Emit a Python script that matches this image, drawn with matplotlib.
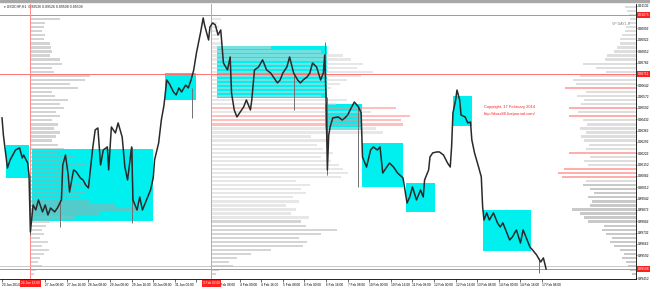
import matplotlib.pyplot as plt
import numpy as np
from matplotlib.patches import Rectangle

plt.rcParams['font.family'] = ['Liberation Sans', 'DejaVu Sans']

# H1 bars counted from 23 Jan 2014 16:00, closes
bars = [0, 1, 4, 6, 8, 10, 13, 15, 16, 19, 20, 21, 23, 25, 27, 30, 32, 34, 36, 39,
        41, 44, 45, 47, 49, 50, 53, 55, 58, 60, 62, 64, 67, 69, 71, 73, 75, 78, 79, 81,
        84, 86, 89, 91, 93, 96, 97, 100, 102, 104, 107, 110, 112, 113, 116, 118, 120, 122, 124, 127,
        129, 131, 133, 136, 138, 140, 142, 144, 147, 149, 150, 153, 154, 156, 158, 160, 162, 164, 167, 169,
        170, 172, 174, 176, 179, 181, 184, 185, 187, 190, 193, 196, 199, 201, 204, 206, 208, 211, 213, 216,
        219, 221, 223, 226, 228, 230, 233, 236, 238, 239, 240, 241, 242, 243, 245, 249, 252, 254, 256, 259,
        261, 264, 266, 267, 270, 273, 275, 278, 280, 282, 285, 287, 290, 293, 297, 300, 302, 304, 307, 310,
        312, 313, 316, 317, 319, 322, 324, 327, 330, 332, 333, 334, 336, 337, 339, 340, 343, 345, 347, 348,
        350, 353, 355, 356, 357, 359, 361, 364, 367, 369, 371, 374, 376, 378, 381, 384, 386, 389, 391, 393,
        396, 399, 401, 403]
closes = [0.90440, 0.90335, 0.90131, 0.90181, 0.90211, 0.90242, 0.90255, 0.90193, 0.90211, 0.90162,
          0.90088, 0.89736, 0.89903, 0.89872, 0.89934, 0.89860, 0.89903, 0.89841, 0.89884, 0.89860,
          0.89884, 0.89934, 0.90150, 0.90211, 0.90088, 0.89983, 0.90119, 0.90107, 0.90070, 0.90057,
          0.90026, 0.90008, 0.90242, 0.90366, 0.90378, 0.90150, 0.90242, 0.90261, 0.90119, 0.90384,
          0.90347, 0.90409, 0.90322, 0.90137, 0.90057, 0.90261, 0.89934, 0.89872, 0.89952, 0.89872,
          0.89934, 0.89995, 0.90070, 0.90181, 0.90285, 0.90427, 0.90520, 0.90674, 0.90650, 0.90600,
          0.90582, 0.90625, 0.90600, 0.90643, 0.90625, 0.90674, 0.90736, 0.90841, 0.90964, 0.91057,
          0.91014, 0.90921, 0.91001, 0.91026, 0.91014, 0.90952, 0.90983, 0.90779, 0.90736, 0.90816,
          0.90594, 0.90489, 0.90446, 0.90471, 0.90508, 0.90551, 0.90489, 0.90551, 0.90736, 0.90754,
          0.90798, 0.90736, 0.90717, 0.90693, 0.90656, 0.90674, 0.90717, 0.90754, 0.90816, 0.90717,
          0.90674, 0.90656, 0.90674, 0.90693, 0.90717, 0.90779, 0.90754, 0.90674, 0.90717, 0.90828,
          0.90569, 0.90119, 0.90335, 0.90384, 0.90440, 0.90446, 0.90427, 0.90440, 0.90458, 0.90508,
          0.90538, 0.90508, 0.90471, 0.90199, 0.90137, 0.90242, 0.90261, 0.90242, 0.90261, 0.90100,
          0.90137, 0.90162, 0.90137, 0.90100, 0.90070, 0.89915, 0.89952, 0.90014, 0.89934, 0.89995,
          0.89952, 0.90057, 0.90119, 0.90199, 0.90224, 0.90230, 0.90230, 0.90211, 0.90162, 0.90137,
          0.90261, 0.90471, 0.90551, 0.90612, 0.90551, 0.90458, 0.90446, 0.90409, 0.90415, 0.90304,
          0.90224, 0.90137, 0.90076, 0.89891, 0.89810, 0.89854, 0.89810, 0.89854, 0.89792, 0.89767,
          0.89792, 0.89730, 0.89687, 0.89705, 0.89749, 0.89668, 0.89749, 0.89687, 0.89644, 0.89625,
          0.89594, 0.89551, 0.89576, 0.89508]

# long wicks that stick out of the close line
wick_bar = [21, 43, 96, 141, 216, 239, 241, 264, 398]
wick_low = [0.89718, 0.89767, 0.89792, 0.90440, 0.90489, 0.90569, 0.90088, 0.90014, 0.89483]
wick_high = [0.90088, 0.89934, 0.90261, 0.90625, 0.90717, 0.90908, 0.90569, 0.90508, 0.89576]

# cyan value-area boxes (bar from/to, price low/high)
box_from = [3, 22, 121, 159, 239, 267, 299, 334, 356]
box_to = [20, 112, 144, 241, 267, 297, 321, 348, 392]
box_low = [0.90070, 0.89804, 0.90551, 0.90563, 0.90366, 0.90014, 0.89860, 0.90390, 0.89619]
box_high = [0.90273, 0.90248, 0.90717, 0.90884, 0.90526, 0.90285, 0.90039, 0.90575, 0.89872]

# volume profiles, one value per 2.5 pip level starting at 0.89475
level0 = 0.89475
level_step = 0.00025
vol_left = [4, 6, 12, 8, 10, 14, 19, 12, 18, 10, 14, 12, 16, 20, 45, 70, 110, 85, 60, 50,
            55, 45, 58, 40, 48, 35, 42, 55, 38, 45, 30, 34, 28, 22, 26, 30, 24, 28, 22, 30,
            26, 34, 30, 38, 25, 22, 48, 40, 55, 60, 24, 22, 32, 30, 20, 22, 21, 20, 14, 15,
            12, 14, 15, 30]
vol_mid = [5, 8, 22, 18, 26, 40, 60, 92, 96, 88, 110, 126, 95, 90, 98, 80, 85, 75, 88, 82,
           95, 90, 99, 85, 130, 137, 132, 128, 120, 110, 122, 112, 106, 116, 100, 172, 165, 192, 190, 199,
           160, 185, 125, 136, 110, 115, 120, 129, 136, 150, 162, 146, 152, 140, 132, 110, 60, 10, 8, 9,
           7, 8, 6, 10]
vol_right = [4, 6, 8, 10, 14, 12, 16, 22, 26, 24, 30, 34, 32, 48, 52, 56, 64, 46, 44, 48,
             42, 46, 53, 50, 74, 78, 72, 48, 52, 46, 67, 50, 47, 52, 55, 50, 56, 49, 53, 67,
             58, 67, 55, 52, 59, 50, 71, 60, 63, 56, 30, 40, 53, 31, 29, 22, 19, 16, 16, 14,
             11, 10, 8, 6, 7, 9, 11]
mid_hot = [37, 38, 39, 41]
right_hot = [24, 25, 26, 30, 39, 41, 46]
left_anchor = 21    # 24 Jan 13:00
mid_anchor = 155    # 3 Feb 03:00

level_prices = [0.91075, 0.90711]
bid = 0.89508
ask = 0.89524
price_ticks = [0.89452, 0.89592, 0.89662, 0.89732, 0.89802, 0.89872, 0.89942, 0.90012,
               0.90082, 0.90152, 0.90222, 0.90292, 0.90362, 0.90432, 0.90502, 0.90572,
               0.90642, 0.90782, 0.90852, 0.90922, 0.90992, 0.91132]
# labels under the red time markers are hidden on the chart
time_labels = ["23 Jan 2014", "", "27 Jan 00:00", "27 Jan 16:00", "28 Jan 08:00",
               "29 Jan 00:00", "29 Jan 16:00", "30 Jan 08:00", "31 Jan 00:00", "",
               "3 Feb 08:00", "4 Feb 00:00", "4 Feb 16:00", "5 Feb 08:00", "6 Feb 00:00",
               "6 Feb 16:00", "7 Feb 08:00", "10 Feb 00:00", "10 Feb 16:00", "11 Feb 08:00",
               "12 Feb 00:00", "12 Feb 16:00", "13 Feb 08:00", "14 Feb 00:00", "14 Feb 16:00",
               "17 Feb 08:00"]
line_labels = ["24 Jan 13:00", "3 Feb 03:00"]

fig = plt.figure(figsize=(6.5, 2.87), dpi=100)
fig.patches.append(Rectangle((0, 1 - 2 / 287), 1, 2 / 287, transform=fig.transFigure,
                             color='#a8a8a8', zorder=0))
ax = fig.add_axes([0, 8 / 287, 636 / 650, 275 / 287])
x_lo, x_hi = -1.5, 469.6
ax.set_xlim(x_lo, x_hi)
ax.set_ylim(0.89446, 0.91143)

vol_scale = 1 / 1.35
bar_h = 0.00014

# value boxes
for b0, b1, lo, hi in zip(box_from, box_to, box_low, box_high):
    ax.add_patch(Rectangle((b0, lo), b1 - b0, hi - lo, facecolor='#00f0f0',
                           edgecolor='none', zorder=1))

# profiles
lv = level0 + level_step * np.arange(len(vol_left))
ax.barh(lv, np.array(vol_left) * vol_scale, left=left_anchor, height=bar_h,
        color=np.where(lv < 0.8985, '#b0b0b0', '#a8a8a8'), alpha=0.5, lw=0, zorder=2)

lv = level0 + level_step * np.arange(len(vol_mid))
cols = np.where(lv < 0.8982, '#b4b4b4', '#d4d4d4').astype(object)
cols[mid_hot] = '#ff8c8c'
ax.barh(lv, np.array(vol_mid) * vol_scale, left=mid_anchor, height=bar_h,
        color=list(cols), alpha=0.55, lw=0, zorder=2)

lv = level0 + level_step * np.arange(len(vol_right))
w = np.array(vol_right) * vol_scale
cols = np.where(lv < 0.9003, '#bcbcbc', '#d6d6d6').astype(object)
cols[right_hot] = '#ff9a9a'
ax.barh(lv, w, left=x_hi - w, height=bar_h, color=list(cols), alpha=0.8, lw=0, zorder=2)

# level lines
for p in level_prices:
    ax.axhline(p, color='#ff7070', lw=0.7, zorder=3)
ax.axhline(ask, color='#c0c0c0', lw=0.6, zorder=3)
ax.axhline(bid, color='#ff7070', lw=0.7, zorder=3)
for b in (left_anchor, mid_anchor):
    ax.axvline(b, color='#ff8a8a', lw=0.7, zorder=3)

# price
ax.vlines(wick_bar, wick_low, wick_high, color='#707070', lw=0.7, zorder=4)
ax.plot(bars, closes, color='#2a2a2a', lw=1.1, zorder=4)

# axes look
for s in ('left', 'top'):
    ax.spines[s].set_visible(False)
for s in ('right', 'bottom'):
    ax.spines[s].set_linewidth(0.6)
ax.yaxis.tick_right()
ax.set_yticks(price_ticks)
ax.set_yticklabels([f"{p:.5f}" for p in price_ticks])
ax.tick_params(axis='y', labelsize=2.3, length=1, width=0.4, pad=0.6)
ax.set_xticks(16 * np.arange(len(time_labels)))
ax.set_xticklabels(time_labels, ha='left')
ax.tick_params(axis='x', labelsize=2.3, length=2, width=0.4, pad=1)

ytr = ax.get_yaxis_transform()
for p in level_prices + [bid]:
    ax.text(1.003, p, f"{p:.5f}", transform=ytr, fontsize=2.3, color='white',
            va='center', ha='left', clip_on=False, zorder=6,
            bbox=dict(facecolor='#ff2020', edgecolor='none', pad=0.5))
xtr = ax.get_xaxis_transform()
for b, lab in zip((left_anchor, mid_anchor), line_labels):
    ax.text(b, -0.016, lab, transform=xtr, fontsize=2.3, color='white', va='center',
            ha='center', clip_on=False, zorder=6,
            bbox=dict(facecolor='#ff2020', edgecolor='none', pad=0.8))

fig.text(4 / 650, 1 - 7 / 287, "\u25be USDCHF,H1  0.89526 0.89526 0.89508 0.89508",
         fontsize=2.5, color='#202020', va='center')
ax.text(357, 0.90508, "Copyright, 17 February 2014", fontsize=2.9, color='#ff2020',
        va='center', zorder=6)
ax.text(357, 0.90464, "http://dsas88.livejournal.com/", fontsize=2.9, color='#ff2020',
        va='center', zorder=6)
ax.text(452, 0.91020, "VP DAY1-0", fontsize=2.6, color='#808080', va='center', zorder=6)

fig.savefig('out.png', dpi=100)
